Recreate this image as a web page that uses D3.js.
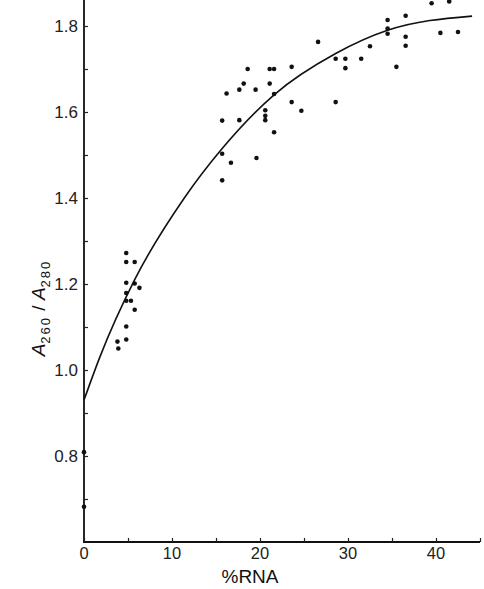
<!DOCTYPE html>
<html><head><meta charset="utf-8">
<script src="https://cdn.jsdelivr.net/npm/d3@7"></script>
<style>body{margin:0;background:#fff}svg{display:block}</style>
</head><body>
<script>
const xTicks = [0, 10, 20, 30, 40];
const yTicks = [0.8, 1.0, 1.2, 1.4, 1.6, 1.8];
const xMinor = [5, 15, 25, 35, 45];
const yMinor = [0.7, 0.9, 1.1, 1.3, 1.5, 1.7];
const pointsX = [0, 0,
  3.8, 3.9, 4.8, 4.8, 4.8, 4.8, 4.8, 4.8, 4.8, 5.34, 5.76, 5.76, 5.76, 6.3,
  15.7, 16.2, 15.7, 15.7, 16.7, 17.65, 17.65, 18.15, 18.6, 19.5, 19.6, 20.6, 20.6, 20.6,
  21.1, 21.1, 21.6, 21.6, 21.6, 23.6, 23.6, 24.7, 26.6, 28.6, 28.6, 29.7, 29.7, 31.5, 32.5,
  34.5, 34.5, 34.5, 35.5, 36.55, 36.55, 36.55, 39.5, 40.5, 41.5, 42.5];
const pointsY = [0.809, 0.682,
  1.066, 1.05, 1.272, 1.251, 1.203, 1.179, 1.161, 1.101, 1.071, 1.161, 1.251, 1.201, 1.14, 1.191,
  1.58, 1.643, 1.503, 1.441, 1.482, 1.652, 1.581, 1.666, 1.70, 1.652, 1.493, 1.604, 1.591, 1.581,
  1.666, 1.70, 1.70, 1.642, 1.553, 1.705, 1.623, 1.603, 1.763, 1.724, 1.623, 1.724, 1.702, 1.724, 1.753,
  1.814, 1.794, 1.782, 1.705, 1.824, 1.775, 1.754, 1.853, 1.784, 1.857, 1.786];
const curveX = [0, 1.8, 5.76, 11.4, 15.7, 21.6, 28.6, 34.5, 44.1];
const curveY = [0.93, 1.03, 1.21, 1.40, 1.515, 1.64, 1.736, 1.79, 1.823];

const W = 484, H = 589;
const x = d3.scaleLinear().domain([0, 45]).range([84, 480]);
const y = d3.scaleLinear().domain([0.6, 1.8]).range([542, 26]);

const svg = d3.select("body").append("svg").attr("width", W).attr("height", H);
const font = "'Liberation Sans', Arial, sans-serif";

// axes lines
svg.append("line").attr("x1", x(0)).attr("x2", x(0)).attr("y1", 0).attr("y2", y(0.6))
  .attr("stroke", "#111").attr("stroke-width", 1.8);
svg.append("line").attr("x1", x(0) - 1).attr("x2", x(45)).attr("y1", y(0.6)).attr("y2", y(0.6))
  .attr("stroke", "#111").attr("stroke-width", 1.8);

// y axis ticks (inward)
const yAxis = d3.axisRight(y).tickValues(yTicks.concat(yMinor)).tickSize(4).tickFormat("");
const gy = svg.append("g").attr("transform", `translate(${x(0)},0)`).call(yAxis);
gy.select(".domain").remove();
gy.selectAll(".tick line").attr("stroke", "#222").attr("stroke-width", 1.2);
svg.append("g").selectAll("text").data(yTicks).join("text")
  .attr("x", x(0) - 6).attr("y", d => y(d) + 6)
  .attr("text-anchor", "end").attr("font-family", font).attr("font-size", 17).attr("fill", "#222")
  .text(d => d.toFixed(1));

// x axis ticks (inward)
const xAxis = d3.axisTop(x).tickValues(xTicks.concat(xMinor)).tickSize(4).tickFormat("");
const gx = svg.append("g").attr("transform", `translate(0,${y(0.6)})`).call(xAxis);
gx.select(".domain").remove();
gx.selectAll(".tick line").attr("stroke", "#222").attr("stroke-width", 1.2);
svg.append("g").selectAll("text").data(xTicks).join("text")
  .attr("x", d => x(d)).attr("y", 559)
  .attr("text-anchor", "middle").attr("font-family", font).attr("font-size", 16.5).attr("fill", "#222")
  .text(d => d);

// x label
svg.append("text").attr("x", 250).attr("y", 583).attr("text-anchor", "middle")
  .attr("font-family", font).attr("font-size", 19).attr("fill", "#111").text("%RNA");

// y label
const yl = svg.append("text").attr("transform", "translate(45,308) rotate(-90)")
  .attr("text-anchor", "middle").attr("font-family", font).attr("font-size", 19).attr("fill", "#111");
yl.append("tspan").attr("font-style", "italic").text("A");
yl.append("tspan").attr("font-size", 13).attr("letter-spacing", 2).attr("dy", 5).text("260");
yl.append("tspan").attr("dy", -5).text(" / ");
yl.append("tspan").attr("font-style", "italic").text("A");
yl.append("tspan").attr("font-size", 13).attr("letter-spacing", 2).attr("dy", 5).text("280");

// curve
const curveData = curveX.map((v, i) => [v, curveY[i]]);
svg.append("path").datum(curveData)
  .attr("d", d3.line().x(d => x(d[0])).y(d => y(d[1])).curve(d3.curveMonotoneX))
  .attr("fill", "none").attr("stroke", "#111").attr("stroke-width", 1.6);

// points
const pts = pointsX.map((v, i) => [v, pointsY[i]]);
svg.append("g").selectAll("circle").data(pts).join("circle")
  .attr("cx", d => x(d[0])).attr("cy", d => y(d[1])).attr("r", 2.3).attr("fill", "#111");
</script>
</body></html>
